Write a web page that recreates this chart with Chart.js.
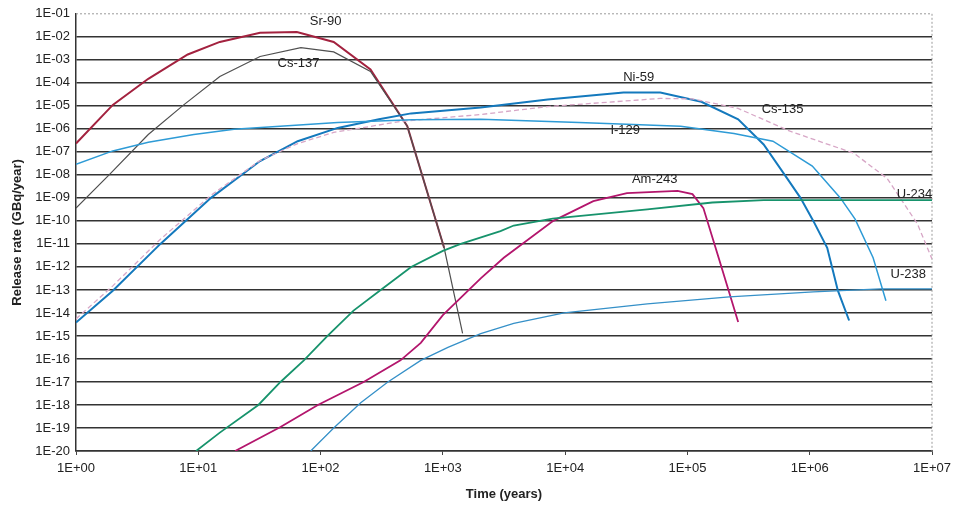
<!DOCTYPE html>
<html>
<head>
<meta charset="utf-8">
<script src="https://cdn.jsdelivr.net/npm/chart.js@4.4.1/dist/chart.umd.min.js"></script>
<style>
  html, body { margin: 0; padding: 0; background: #fff; }
  #wrap { width: 958px; height: 506px; }
</style>
</head>
<body>
<div id="wrap"><canvas id="chart" width="958" height="506"></canvas></div>
<script>
// axis ticks
const xTicks = [1, 1e1, 1e2, 1e3, 1e4, 1e5, 1e6, 1e7];
const xTickLabels = ['1E+00', '1E+01', '1E+02', '1E+03', '1E+04', '1E+05', '1E+06', '1E+07'];
const yTicks = [1e-1, 1e-2, 1e-3, 1e-4, 1e-5, 1e-6, 1e-7, 1e-8, 1e-9, 1e-10, 1e-11,
                1e-12, 1e-13, 1e-14, 1e-15, 1e-16, 1e-17, 1e-18, 1e-19, 1e-20];
const yTickLabels = ['1E-01', '1E-02', '1E-03', '1E-04', '1E-05', '1E-06', '1E-07', '1E-08', '1E-09', '1E-10',
                     '1E-11', '1E-12', '1E-13', '1E-14', '1E-15', '1E-16', '1E-17', '1E-18', '1E-19', '1E-20'];

// release rates (GBq/year) against time (years)
const sr90Time = [1, 2, 3.9, 8.2, 15, 32, 64, 128, 256, 512, 1024];
const sr90Rate = [2.3e-7, 1.1e-5, 1.5e-4, 1.7e-3, 6e-3, 1.5e-2, 1.6e-2, 6e-3, 3.8e-4, 1.3e-6, 6.8e-12];

const cs137Time = [1, 1.9, 3.9, 7.6, 15, 32, 69, 128, 256, 512, 1024, 1450];
const cs137Rate = [3.6e-10, 1.1e-8, 5.7e-7, 1.1e-5, 1.9e-4, 1.4e-3, 3.4e-3, 2.2e-3, 3.1e-4, 1.3e-6, 6.8e-12, 1.3e-15];

const ni59Time = [1, 2, 4.9, 12.7, 32, 65, 138, 300, 550, 2040, 7200, 3e4, 6e4, 1.3e5, 2.6e5, 4.2e5, 6.6e5, 8.4e5, 1.07e6, 1.39e6, 1.7e6, 2.1e6];
const ni59Rate = [3.8e-15, 9.3e-14, 1e-11, 1e-9, 4e-8, 2.9e-7, 1.1e-6, 2.6e-6, 4.7e-6, 8.5e-6, 1.9e-5, 3.8e-5, 3.8e-5, 1.5e-5, 2.6e-6, 2.1e-7, 6.5e-9, 1e-9, 1e-10, 6.8e-12, 9.3e-14, 4.7e-15];

const cs135Time = [1, 2, 4.9, 12.7, 32, 65, 128, 450, 2040, 7200, 6e4, 1.1e5, 2.6e5, 6.9e5, 2.3e6, 4.3e6, 7.6e6, 1e7];
const cs135Rate = [5.5e-15, 1.5e-13, 1.6e-11, 1.3e-9, 4.2e-8, 2.3e-7, 7e-7, 2.1e-6, 4.2e-6, 9.3e-6, 2.1e-5, 2e-5, 7.7e-6, 7.9e-7, 8.7e-8, 7e-9, 7.4e-11, 2.2e-12];

const i129Time = [1, 2, 3.9, 9.2, 19.6, 138, 560, 2040, 1.3e4, 8.8e4, 2.4e5, 5e5, 1.05e6, 1.78e6, 2.35e6, 3.3e6, 4.2e6];
const i129Rate = [2.9e-8, 1.1e-7, 2.6e-7, 5.7e-7, 9.5e-7, 1.9e-6, 2.5e-6, 2.6e-6, 1.9e-6, 1.3e-6, 6.3e-7, 2.9e-7, 2.4e-8, 1e-9, 1.2e-10, 2.5e-12, 3.4e-14];

const am243Time = [20, 47, 95, 225, 450, 660, 1000, 2040, 3150, 8000, 1.7e4, 3.2e4, 8.3e4, 1.1e5, 1.35e5, 1.8e5, 2.6e5];
const am243Rate = [1e-20, 1.1e-19, 1e-18, 1e-17, 8.7e-17, 5e-16, 8e-15, 3.2e-13, 2.5e-12, 1e-10, 7.2e-10, 1.6e-9, 2e-9, 1.45e-9, 3.6e-10, 2.5e-12, 4e-15];

const u234Time = [9.6, 15, 31, 47, 73, 114, 186, 310, 550, 1000, 1400, 2960, 3800, 7900, 4.7e4, 1.6e5, 4.2e5, 1e7];
const u234Rate = [1e-20, 6.3e-20, 1e-18, 1e-17, 8.7e-17, 1e-15, 1.26e-14, 1e-13, 1e-12, 5e-12, 1e-11, 3.6e-11, 6.3e-11, 1.26e-10, 3.2e-10, 6.3e-10, 8e-10, 8e-10];

const u238Time = [83, 128, 213, 355, 660, 1100, 2040, 3800, 9800, 4.7e4, 2.2e5, 1.07e6, 3.8e6, 1e7];
const u238Rate = [1e-20, 1e-19, 1.26e-18, 1e-17, 8.7e-17, 3.2e-16, 1.26e-15, 3.5e-15, 1e-14, 2.5e-14, 5e-14, 8.3e-14, 1.1e-13, 1.1e-13];

// curve names written next to the lines, anchored in data units
const labelNames = ['Sr-90', 'Cs-137', 'Ni-59', 'Cs-135', 'I-129', 'Am-243', 'U-234', 'U-238'];
const labelAt = [[110, 4.5e-2], [66, 6.9e-4], [4e4, 1.7e-4], [6e5, 6.9e-6], [3.1e4, 8.7e-7], [5.4e4, 6.5e-9], [7.2e6, 1.45e-9], [6.4e6, 4.6e-13]];

const pts = (t, r) => t.map((v, i) => ({ x: v, y: r[i] }));

function series(label, t, r, color, width, dash) {
    return {
        label: label,
        data: pts(t, r),
        borderColor: color,
        borderWidth: width,
        borderDash: dash || [],
        pointRadius: 0,
        tension: 0,
        fill: false
    };
}

const FONT = '"Liberation Sans", Arial, sans-serif';

const extrasPlugin = {
    id: 'extras',
    beforeDatasetsDraw(chart) {
        const { ctx, chartArea: a } = chart;
        ctx.save();
        ctx.strokeStyle = '#9a9a9a';
        ctx.lineWidth = 1;
        ctx.setLineDash([2, 2]);
        ctx.beginPath();
        ctx.moveTo(a.left, a.top);
        ctx.lineTo(a.right, a.top);
        ctx.lineTo(a.right, a.bottom);
        ctx.stroke();
        ctx.restore();
    },
    afterDatasetsDraw(chart) {
        const { ctx, scales } = chart;
        ctx.save();
        ctx.font = '13px ' + FONT;
        ctx.fillStyle = '#222';
        ctx.textAlign = 'center';
        ctx.textBaseline = 'middle';
        labelNames.forEach((name, i) => {
            const px = scales.x.getPixelForValue(labelAt[i][0]);
            const py = scales.y.getPixelForValue(labelAt[i][1]);
            ctx.fillText(name, px, py);
        });
        ctx.restore();
    }
};

new Chart(document.getElementById('chart').getContext('2d'), {
    type: 'line',
    data: {
        datasets: [
            series('U-238', u238Time, u238Rate, '#3590c8', 1.3),
            series('U-234', u234Time, u234Rate, '#17936c', 1.8),
            series('Am-243', am243Time, am243Rate, '#b3166d', 1.8),
            series('I-129', i129Time, i129Rate, '#2e9bd6', 1.5),
            series('Cs-135', cs135Time, cs135Rate, '#d7a6c6', 1.3, [5, 3]),
            series('Ni-59', ni59Time, ni59Rate, '#1479bd', 2),
            series('Cs-137', cs137Time, cs137Rate, '#505050', 1.2),
            series('Sr-90', sr90Time, sr90Rate, '#a3223f', 2)
        ]
    },
    options: {
        responsive: false,
        animation: false,
        layout: { padding: { top: 12, right: 26, left: 0, bottom: 0 } },
        plugins: { legend: { display: false }, tooltip: { enabled: false } },
        scales: {
            x: {
                type: 'logarithmic',
                min: 1, max: 1e7,
                afterBuildTicks: (s) => { s.ticks = xTicks.map(v => ({ value: v })); },
                afterFit: (s) => { s.height = 55; },
                ticks: {
                    autoSkip: false, maxRotation: 0, padding: 6, color: '#222',
                    font: { family: FONT, size: 13 },
                    callback: (v, i) => xTickLabels[i]
                },
                grid: { drawOnChartArea: false, drawTicks: true, tickLength: 4, color: '#444', lineWidth: 1 },
                border: { display: true, color: '#333', width: 1.5 },
                title: {
                    display: true, text: 'Time (years)', color: '#222',
                    font: { family: FONT, size: 13, weight: 'bold' }, padding: { top: 4 }
                }
            },
            y: {
                type: 'logarithmic',
                min: 1e-20, max: 1e-1,
                afterBuildTicks: (s) => { s.ticks = yTicks.map(v => ({ value: v })); },
                afterFit: (s) => { s.width = 76; },
                ticks: {
                    autoSkip: false, padding: 6, color: '#222',
                    font: { family: FONT, size: 13 },
                    callback: (v, i) => yTickLabels[i]
                },
                grid: {
                    drawTicks: false,
                    color: (c) => (c.index === 0 ? 'rgba(0,0,0,0)' : '#333'),
                    lineWidth: 1.5
                },
                border: { display: true, color: '#333', width: 1.5 },
                title: {
                    display: true, text: 'Release rate (GBq/year)', color: '#222',
                    font: { family: FONT, size: 13, weight: 'bold' }, padding: { top: 10, bottom: 0 }
                }
            }
        }
    },
    plugins: [extrasPlugin]
});
</script>
</body>
</html>
